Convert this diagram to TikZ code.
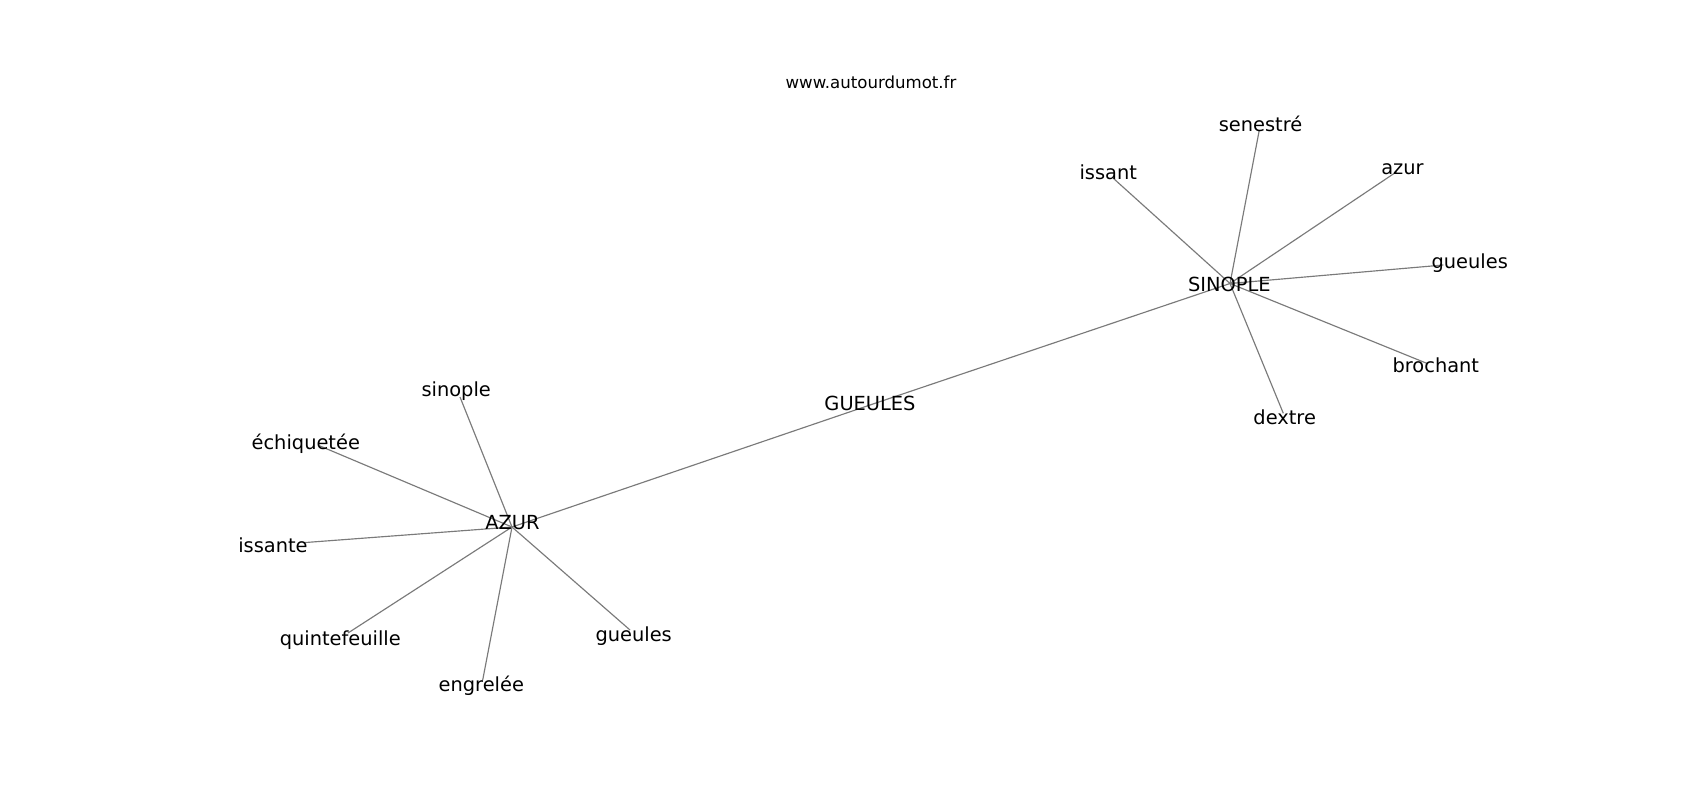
\documentclass[tikz,border=0pt]{standalone}
\usepackage{fontspec}
\setmainfont{DejaVu Sans}
\tikzset{
  lbl/.style={anchor=base, inner sep=0pt, outer sep=0pt, yshift=-1pt, font=\fontsize{19.4}{22}\selectfont, text=black},
  ttl/.style={anchor=base, inner sep=0pt, outer sep=0pt, yshift=-1pt, font=\fontsize{16.6}{19}\selectfont, text=black},
  edge/.style={draw=black!52, line width=1.15pt}
}
\begin{document}
\begin{tikzpicture}[x=1pt,y=-1pt]
\fill[white] (0,0) rectangle (1700,800);
\useasboundingbox (0,0) rectangle (1700,800);
% graph points
\coordinate (pAZUR) at (512,527);
\coordinate (pGUEULES) at (870,405);
\coordinate (pSINOPLE) at (1230,283.5);
\coordinate (pSinople) at (460,397);
\coordinate (pEchiq) at (320,446);
\coordinate (pIssante) at (303,542.7);
\coordinate (pQuinte) at (348,633);
\coordinate (pEngrelee) at (482.7,680);
\coordinate (pGueulesL) at (630,630);
\coordinate (pSenestre) at (1259.3,130);
\coordinate (pIssant) at (1113.3,178.3);
\coordinate (pAzur) at (1396.7,171.7);
\coordinate (pGueulesR) at (1443.3,265);
\coordinate (pBrochant) at (1426.7,363.3);
\coordinate (pDextre) at (1283.3,413.3);
% edges
\draw[edge] (pAZUR) -- (pGUEULES);
\draw[edge] (pGUEULES) -- (pSINOPLE);
\foreach \t in {pSinople,pEchiq,pIssante,pQuinte,pEngrelee,pGueulesL}
  \draw[edge] (pAZUR) -- (\t);
\foreach \t in {pSenestre,pIssant,pAzur,pGueulesR,pBrochant,pDextre}
  \draw[edge] (pSINOPLE) -- (\t);
% labels
\node[ttl] (title) at (871,87.3) {www.autourdumot.fr};
\node[lbl] (AZUR) at (512.5,528.3) {AZUR};
\node[lbl] (GUEULES) at (870,409.5) {GUEULES};
\node[lbl] (SINOPLE) at (1229.3,290) {SINOPLE};
\node[lbl] (sinople) at (456.2,395) {sinople};
\node[lbl] (echiq) at (305.8,448.3) {échiquetée};
\node[lbl] (issante) at (273,551.7) {issante};
\node[lbl] (quinte) at (340.3,644) {quintefeuille};
\node[lbl] (engrelee) at (481.3,690) {engrelée};
\node[lbl] (gueulesL) at (633.7,640) {gueules};
\node[lbl] (senestre) at (1260.5,130) {senestré};
\node[lbl] (issant) at (1108.2,178.3) {issant};
\node[lbl] (azur) at (1402.5,173.3) {azur};
\node[lbl] (gueulesR) at (1469.7,267.3) {gueules};
\node[lbl] (brochant) at (1435.8,371) {brochant};
\node[lbl] (dextre) at (1284.7,423.3) {dextre};
\end{tikzpicture}
\end{document}
